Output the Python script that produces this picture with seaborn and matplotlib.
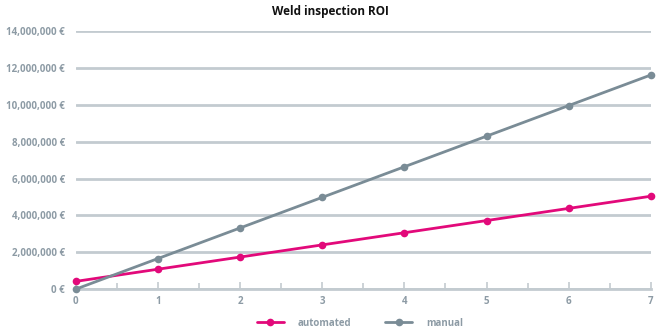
import matplotlib
matplotlib.use("Agg")
import matplotlib.pyplot as plt
from matplotlib.ticker import FuncFormatter, MultipleLocator
import seaborn as sns
import pandas as pd

years = [0, 1, 2, 3, 4, 5, 6, 7]
automated = [420000, 1080000, 1740000, 2400000, 3060000, 3720000, 4380000, 5040000]
manual = [0, 1660000, 3320000, 4980000, 6640000, 8300000, 9960000, 11620000]
series_names = ["automated", "manual"]
y_ticks = [0, 2000000, 4000000, 6000000, 8000000, 10000000, 12000000, 14000000]
title = "Weld inspection ROI"

df = pd.DataFrame({
    "year": years * 2,
    "cost": automated + manual,
    "series": [series_names[0]] * len(years) + [series_names[1]] * len(years),
})

sns.set_theme(style="white")
plt.rcParams["font.family"] = ["Open Sans", "DejaVu Sans"]
plt.rcParams["font.weight"] = "bold"

grid_c = "#c3cbd0"
label_c = "#8d9ba5"
palette = {"automated": "#e2097a", "manual": "#7a8c96"}

fig = plt.figure(figsize=(6.6, 3.35), dpi=100)
ax = fig.add_axes([0.115, 0.137, 0.871, 0.770])

sns.lineplot(data=df, x="year", y="cost", hue="series", palette=palette,
             marker="o", markersize=5.5, markeredgewidth=0, linewidth=2,
             ax=ax, legend=False, clip_on=False, zorder=3)

ax.set_xlim(0, 7)
ax.set_ylim(0, 14000000)
ax.set_yticks(y_ticks)
ax.yaxis.set_major_formatter(FuncFormatter(lambda v, p: f"{int(v):,} €"))
ax.xaxis.set_major_locator(MultipleLocator(1))
ax.xaxis.set_minor_locator(MultipleLocator(0.5))
ax.grid(axis="y", color=grid_c, linewidth=2)
ax.set_axisbelow(True)
for s in ["top", "right", "left"]:
    ax.spines[s].set_visible(False)
ax.spines["bottom"].set_color(grid_c)
ax.spines["bottom"].set_linewidth(2)
ax.tick_params(axis="y", length=0, pad=8, labelsize=7, labelcolor=label_c)
ax.tick_params(axis="x", which="major", length=5, width=1.2, color=grid_c,
               direction="in", pad=5, labelsize=7, labelcolor=label_c)
ax.tick_params(axis="x", which="minor", length=4, width=1.2, color=grid_c,
               direction="in")
ax.tick_params(axis="x", bottom=True, which="both")
ax.set_xlabel("")
ax.set_ylabel("")

fig.suptitle(title, x=0.5, y=0.985, fontsize=8.5, fontweight="bold", color="#111111")

handles = [plt.Line2D([], [], color=palette[n], marker="o", markersize=5.5,
                      markeredgewidth=0, linewidth=2) for n in series_names]
leg = fig.legend(handles, series_names, loc="center", bbox_to_anchor=(0.545, 0.035),
                 ncol=2, frameon=False, fontsize=7, handlelength=2.8,
                 columnspacing=3.5, handletextpad=1.4)
for t in leg.get_texts():
    t.set_color(label_c)

fig.savefig("out.png", dpi=100)
